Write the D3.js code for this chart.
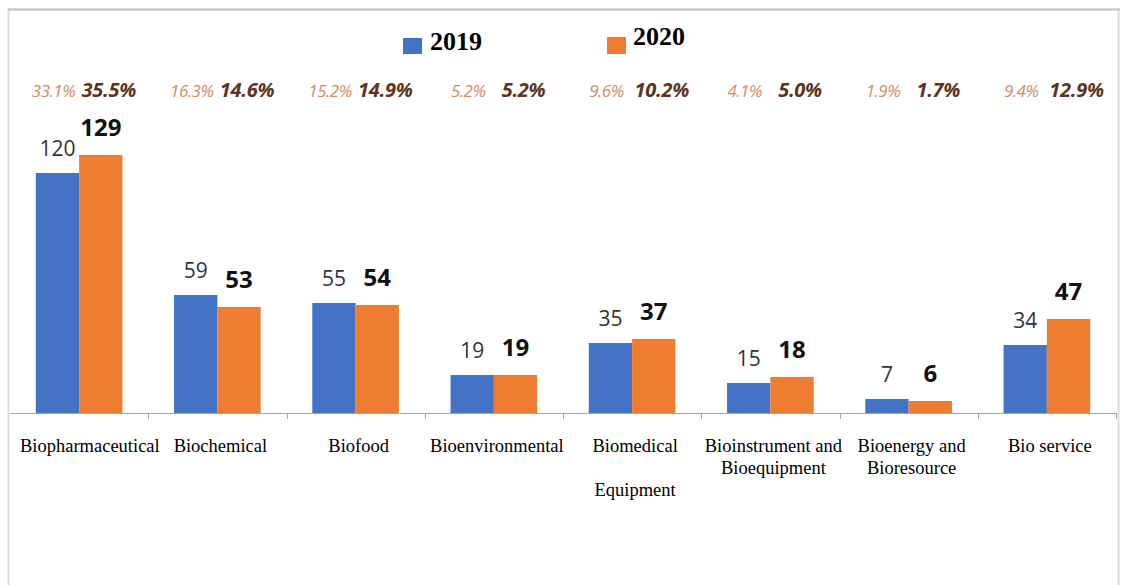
<!DOCTYPE html>
<html>
<head>
<meta charset="utf-8">
<script src="https://cdn.jsdelivr.net/npm/d3@7"></script>
<style>
  html, body { margin: 0; padding: 0; background: #fff; }
  svg { display: block; }
</style>
</head>
<body>
<svg id="chart" width="1124" height="585"></svg>
<script>
// ---- data ----
const categories = ["Biopharmaceutical", "Biochemical", "Biofood", "Bioenvironmental",
  "Biomedical Equipment", "Bioinstrument and Bioequipment", "Bioenergy and Bioresource", "Bio service"];
const categoryLines = [["Biopharmaceutical"], ["Biochemical"], ["Biofood"], ["Bioenvironmental"],
  ["Biomedical", "", "Equipment"], ["Bioinstrument and", "Bioequipment"], ["Bioenergy and", "Bioresource"], ["Bio service"]];
const seriesNames = ["2019", "2020"];
const values2019 = [120, 59, 55, 19, 35, 15, 7, 34];
const values2020 = [129, 53, 54, 19, 37, 18, 6, 47];
const share2019 = ["33.1%", "16.3%", "15.2%", "5.2%", "9.6%", "4.1%", "1.9%", "9.4%"];
const share2020 = ["35.5%", "14.6%", "14.9%", "5.2%", "10.2%", "5.0%", "1.7%", "12.9%"];
const colors = ["#4472C4", "#ED7D31"];

// ---- layout ----
const svg = d3.select("#chart");
const plot = { left: 10, right: 1116, base: 413 };

// frame
svg.append("rect").attr("x", 8.5).attr("y", 9.5).attr("width", 1110).attr("height", 600)
  .attr("fill", "none").attr("stroke", "#dcdcdc").attr("stroke-width", 2);
svg.append("line").attr("x1", 8).attr("x2", 1120).attr("y1", 9.5).attr("y2", 9.5)
  .attr("stroke", "#c4c4c4").attr("stroke-width", 2);

const x0 = d3.scaleBand().domain(categories).range([plot.left, plot.right]).padding(0);
const x1 = d3.scaleBand().domain(seriesNames).range([0, x0.bandwidth()]).paddingInner(0).paddingOuter(0.596);
const y = d3.scaleLinear().domain([0, 100]).range([plot.base, plot.base - 200]);

const data = categories.map((c, i) => ({
  cat: c, lines: categoryLines[i],
  vals: [values2019[i], values2020[i]],
  shares: [share2019[i], share2020[i]]
}));

// bars
const g = svg.append("g");
const groups = g.selectAll("g.grp").data(data).join("g").attr("class", "grp")
  .attr("transform", d => `translate(${x0(d.cat)},0)`);

groups.selectAll("rect").data(d => d.vals.map((v, k) => ({ v, k, s: seriesNames[k] })))
  .join("rect")
  .attr("x", d => x1(d.s))
  .attr("width", x1.bandwidth())
  .attr("y", d => y(d.v))
  .attr("height", d => plot.base - y(d.v))
  .attr("fill", d => colors[d.k]);

// value labels
groups.selectAll("text.val").data(d => d.vals.map((v, k) => ({ v, k, s: seriesNames[k] })))
  .join("text").attr("class", "val")
  .attr("x", d => x1(d.s) + x1.bandwidth() / 2)
  .attr("y", d => y(d.v) - (d.k === 0 ? 17 : 19))
  .attr("text-anchor", "middle")
  .attr("font-family", "'Open Sans', 'Noto Sans', sans-serif")
  .attr("font-size", d => d.k === 0 ? 21 : 24)
  .attr("font-weight", d => d.k === 0 ? 400 : 700)
  .attr("fill", d => d.k === 0 ? "#333" : "#111")
  .text(d => d.v);

// share labels
groups.append("text")
  .attr("x", x1("2019") + x1.bandwidth() / 2 - 4)
  .attr("y", 97)
  .attr("text-anchor", "middle")
  .attr("font-family", "'Open Sans', sans-serif")
  .attr("font-style", "italic")
  .attr("font-size", 17)
  .attr("letter-spacing", -0.5)
  .attr("fill", "#d28c63")
  .text(d => d.shares[0]);
groups.append("text")
  .attr("x", x1("2020") + x1.bandwidth() / 2 + 8)
  .attr("y", 97)
  .attr("text-anchor", "middle")
  .attr("font-family", "'Open Sans', sans-serif")
  .attr("font-style", "italic")
  .attr("font-weight", 700)
  .attr("font-size", 20)
  .attr("letter-spacing", -0.3)
  .attr("fill", "#5e3420")
  .text(d => d.shares[1]);

// axis line + ticks at band boundaries
svg.append("line").attr("x1", plot.left).attr("x2", plot.right + 1)
  .attr("y1", plot.base + 0.5).attr("y2", plot.base + 0.5)
  .attr("stroke", "#a6a6a6").attr("stroke-width", 1);
svg.selectAll("line.tick").data(categories).join("line").attr("class", "tick")
  .attr("x1", d => Math.round(x0(d) + x0.bandwidth()) + 0.5)
  .attr("x2", d => Math.round(x0(d) + x0.bandwidth()) + 0.5)
  .attr("y1", plot.base).attr("y2", plot.base + 6)
  .attr("stroke", "#a6a6a6");

// category labels
const catG = svg.append("g");
data.forEach(d => {
  const t = catG.append("text")
    .attr("font-family", "'Liberation Serif', 'Times New Roman', serif")
    .attr("font-size", 18.5)
    .attr("fill", "#000")
    .attr("text-anchor", "middle");
  d.lines.forEach((ln, j) => {
    t.append("tspan").attr("dy", j === 0 ? 0 : 22).attr("x", 0).text(ln || "\u00A0");
  });
  const w = t.node().getBBox().width;
  const cx = Math.max(x0(d.cat) + x0.bandwidth() / 2 + 3, 20 + w / 2);
  t.attr("transform", `translate(${cx},452)`);
});

// legend
const legend = svg.append("g");
const legendItems = [
  { name: seriesNames[0], color: colors[0], sx: 403, sy: 38, sw: 19, sh: 16, tx: 430, ty: 50 },
  { name: seriesNames[1], color: colors[1], sx: 607, sy: 37, sw: 19, sh: 17, tx: 633, ty: 45 }
];
legendItems.forEach(it => {
  legend.append("rect").attr("x", it.sx).attr("y", it.sy).attr("width", it.sw).attr("height", it.sh)
    .attr("fill", it.color);
  legend.append("text").attr("x", it.tx).attr("y", it.ty)
    .attr("font-family", "'Liberation Serif', 'Times New Roman', serif")
    .attr("font-weight", 700).attr("font-size", 26).attr("fill", "#000")
    .text(it.name);
});
</script>
</body>
</html>
